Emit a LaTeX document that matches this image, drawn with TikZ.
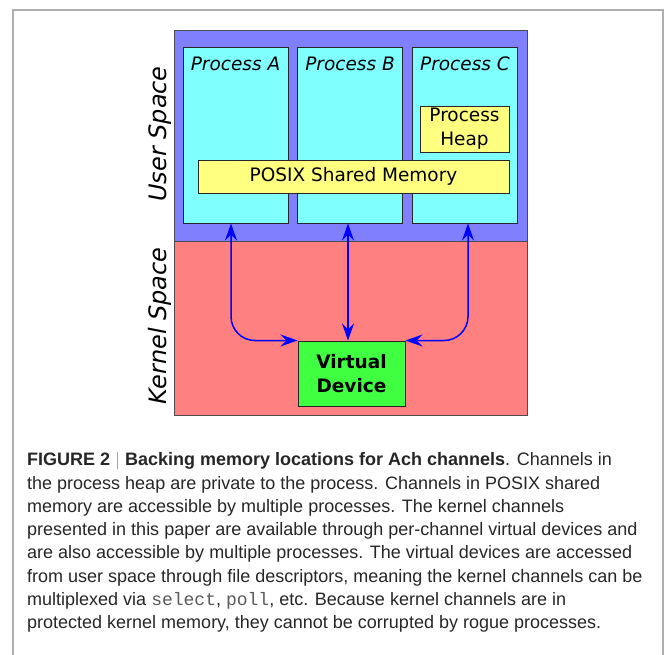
\documentclass[tikz,border=0pt]{standalone}
\usepackage{xcolor}
\usepackage{fontspec}
\setmainfont{Liberation Sans}
\setmonofont{Liberation Mono}
\newfontfamily\dejavu{DejaVu Sans}
\usepackage{tikz}
\usetikzlibrary{arrows.meta}

\definecolor{userblue}{RGB}{128,128,255}
\definecolor{kernred}{RGB}{255,128,128}
\definecolor{proccyan}{RGB}{128,255,255}
\definecolor{memyellow}{RGB}{255,255,128}
\definecolor{devgreen}{RGB}{64,255,64}
\definecolor{framegray}{RGB}{175,175,175}

\begin{document}
\begin{tikzpicture}[x=1pt,y=-1pt,
    region/.style={draw=black!70,line width=1pt,minimum width=353pt,inner sep=0pt},
    box/.style={draw=black!85,line width=1pt,inner sep=0pt,align=center,font=\dejavu\fontsize{18.5}{24}\selectfont},
    proc/.style={box,fill=proccyan,minimum width=105pt,minimum height=176pt},
    mem/.style={box,fill=memyellow},
    side/.style={rotate=90,font=\dejavu\itshape\fontsize{24}{28}\selectfont},
    tag/.style={font=\dejavu\itshape\fontsize{18.5}{24}\selectfont,anchor=north,yshift=-7pt},
    link/.style={{Stealth[length=17pt,width=12pt,inset=6pt]}-{Stealth[length=17pt,width=12pt,inset=6pt]},blue,line width=1.5pt,rounded corners=24pt}]
  \useasboundingbox (0,0) rectangle (666,654);
  \draw[framegray,line width=1.5pt] (13,660) -- (13,10) -- (663,10) -- (663,660);

  % user and kernel space
  \node[region,fill=userblue,minimum height=211pt](user) at (350.5,135.5){};
  \node[region,fill=kernred,minimum height=174pt](kernel) at (350.5,328){};
  \node[side](userlbl) at (160,134){User Space};
  \node[side](kernlbl) at (160,326){Kernel Space};

  % processes
  \node[proc,label={[tag]north:Process A}](procA) at (235.5,135){};
  \node[proc,label={[tag]north:Process B}](procB) at (350,135){};
  \node[proc,label={[tag]north:Process C}](procC) at (465,135){};
  \node[mem,minimum width=89pt,minimum height=46pt](heap) at (464.5,129){Process\\Heap};
  \node[mem,minimum width=311pt,minimum height=33pt](posix) at (353.5,176.5){POSIX Shared Memory};

  % kernel device
  \node[box,fill=devgreen,minimum width=107pt,minimum height=65pt,font=\dejavu\bfseries\fontsize{18.5}{24.5}\selectfont](vdev) at (351.5,373.5){Virtual\\Device};

  \draw[link] ([xshift=-4.5pt]procA.south) |- (vdev.north west);
  \draw[link] ([xshift=-2pt]procB.south) -- ([xshift=-2pt]procB.south |- vdev.north);
  \draw[link] ([xshift=3pt]procC.south) |- (vdev.north east);

  % caption
  \node[anchor=north west,inner sep=0pt,align=left,text=black!85,font=\fontsize{18}{23.3}\selectfont](caption) at (27,452.5){%
    \textbf{FIGURE 2} {\color{black!50}$|$} \textbf{Backing memory locations for Ach channels}. Channels in\\
    the process heap are private to the process. Channels in POSIX shared\\
    memory are accessible by multiple processes. The kernel channels\\
    presented in this paper are available through per-channel virtual devices and\\
    are also accessible by multiple processes. The virtual devices are accessed\\
    from user space through file descriptors, meaning the kernel channels can be\\
    multiplexed via {\ttfamily\color{black!65}select}, {\ttfamily\color{black!65}poll}, etc. Because kernel channels are in\\
    protected kernel memory, they cannot be corrupted by rogue processes.};
\end{tikzpicture}
\end{document}
